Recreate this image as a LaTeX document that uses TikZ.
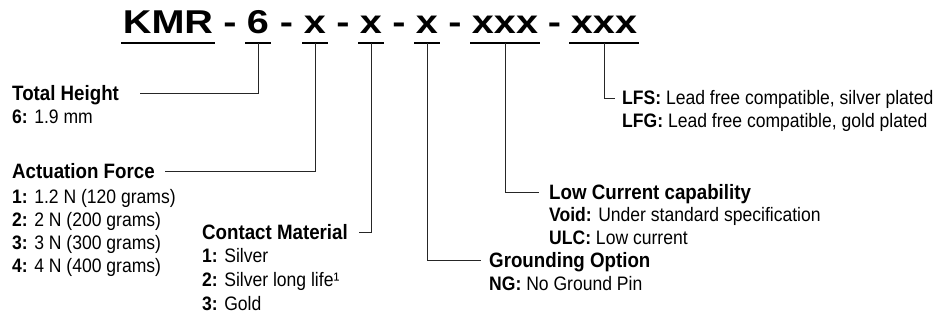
\documentclass[tikz,border=0pt]{standalone}
\usepackage{fontspec}
\setmainfont{Liberation Sans}[FakeStretch=0.9]
\newfontfamily\titlefont{Liberation Sans}[FakeStretch=1.2]
\usetikzlibrary{calc}
\tikzset{
  ttl/.style={inner sep=0pt, anchor=base, font=\titlefont\fontsize{33}{33}\selectfont\bfseries},
  hdr/.style={inner sep=0pt, anchor=base west, font=\fontsize{20.8}{24}\selectfont\bfseries},
  itm/.style={inner sep=0pt, anchor=base west, font=\fontsize{19.5}{23}\selectfont},
  conn/.style={line width=0.8pt, draw=black!85},
  uline/.style={line width=1.1pt, draw=black}
}
\begin{document}
\begin{tikzpicture}[x=1pt, y=-1pt]
\useasboundingbox (0,0) rectangle (948,320);
\fill[white] (0,0) rectangle (948,320);

% title parts
\node[ttl] (kmr) at (168,34) {KMR};
\node[ttl] (six) at (258,34) {6};
\node[ttl] (xa)  at (315,34) {x};
\node[ttl] (xb)  at (371,34) {x};
\node[ttl] (xc)  at (427,34) {x};
\node[ttl] (xd)  at (505,34) {xxx};
\node[ttl] (xe)  at (604,34) {xxx};
\node[ttl] (d1) at ($(kmr.base east)!.5!(six.base west)$) {-};
\node[ttl] (d2) at ($(six.base east)!.5!(xa.base west)$) {-};
\node[ttl] (d3) at ($(xa.base east)!.5!(xb.base west)$) {-};
\node[ttl] (d4) at ($(xb.base east)!.5!(xc.base west)$) {-};
\node[ttl] (d5) at ($(xc.base east)!.5!(xd.base west)$) {-};
\node[ttl] (d6) at ($(xd.base east)!.5!(xe.base west)$) {-};

% underlines
\foreach \n in {kmr,six,xa,xb,xc,xd,xe}{
  \draw[uline] ([xshift=-1.5pt,yshift=-9pt]\n.base west) -- ([xshift=1.5pt,yshift=-9pt]\n.base east);
  \coordinate (u-\n) at ([yshift=-9pt]\n.base);
}

% Total Height
\node[hdr] (th) at (12,100.5) {Total Height};
\node[itm] (th1) at (12,124) {\textbf{6:} 1.9 mm};

% Actuation Force
\node[hdr] (af) at (12,178.5) {Actuation Force};
\node[itm] (af1) at (12,204) {\textbf{1:} 1.2 N (120 grams)};
\node[itm] (af2) at (12,227) {\textbf{2:} 2 N (200 grams)};
\node[itm] (af3) at (12,250) {\textbf{3:} 3 N (300 grams)};
\node[itm] (af4) at (12,273) {\textbf{4:} 4 N (400 grams)};

% Contact Material
\node[hdr] (cm) at (202,239.5) {Contact Material};
\node[itm] (cm1) at (202,263) {\textbf{1:} Silver};
\node[itm] (cm2) at (202,287) {\textbf{2:} Silver long life¹};
\node[itm] (cm3) at (202,311) {\textbf{3:} Gold};

% Grounding Option
\node[hdr] (go) at (489,267.5) {Grounding Option};
\node[itm] (go1) at (489,291) {\textbf{NG:} No Ground Pin};

% Low Current capability
\node[hdr] (lc) at (549,199.5) {Low Current capability};
\node[itm] (lc1) at (549,222) {\textbf{Void:} Under standard specification};
\node[itm] (lc2) at (549,245) {\textbf{ULC:} Low current};

% Lead free
\node[itm] (lf1) at (622,105) {\textbf{LFS:} Lead free compatible, silver plated};
\node[itm] (lf2) at (622,128) {\textbf{LFG:} Lead free compatible, gold plated};

% connector ends
\coordinate (thc) at (140,93);
\coordinate (afc) at (165,171);
\coordinate (cmc) at (359,232);
\coordinate (goc) at (481,260);
\coordinate (lcc) at (539,192);
\coordinate (lfc) at (615,98);

\draw[conn] (u-six) |- (thc);
\draw[conn] (u-xa) |- (afc);
\draw[conn] (u-xb) |- (cmc);
\draw[conn] (u-xc) |- (goc);
\draw[conn] (u-xd) |- (lcc);
\draw[conn] (u-xe) |- (lfc);
\end{tikzpicture}
\end{document}
